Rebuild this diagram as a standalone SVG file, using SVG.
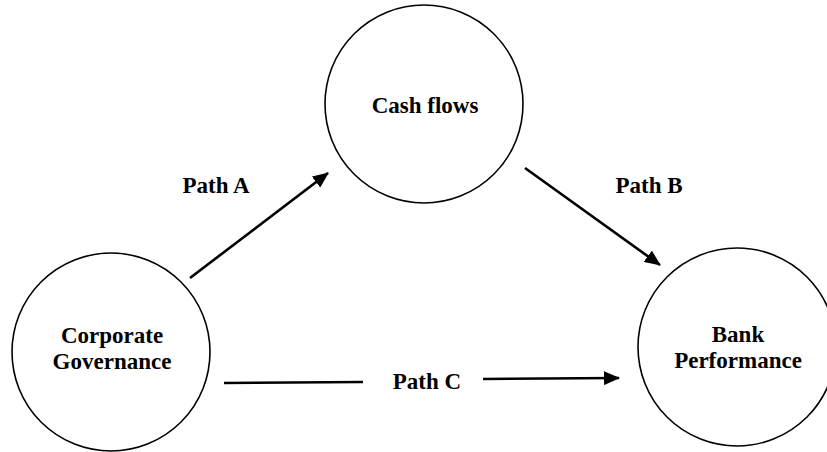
<svg xmlns="http://www.w3.org/2000/svg" width="827" height="452" viewBox="0 0 827 452">
<style>
.node{fill:#fff;stroke:#000;stroke-width:1.6}
.lbl{font-weight:bold;font-size:23px;fill:#000;text-anchor:middle}
.edge{stroke:#000;stroke-width:2.6;fill:none}
</style>
<defs>
<marker id="ah" markerUnits="userSpaceOnUse" markerWidth="16" markerHeight="14" refX="15" refY="7" orient="auto">
<path d="M0,0 L16,7 L0,14 Z" fill="#000"/>
</marker>
</defs>
<rect width="827" height="452" fill="#fff"/>
<g font-family="'Liberation Serif', 'Times New Roman', 'DejaVu Serif', serif">
<g id="cash-flows">
<circle class="node" cx="424" cy="104" r="99"/>
<text class="lbl" x="425" y="113">Cash flows</text>
</g>
<g id="corporate-governance">
<circle class="node" cx="111" cy="352" r="99"/>
<text class="lbl" x="112" y="343">Corporate</text>
<text class="lbl" x="112" y="369">Governance</text>
</g>
<g id="bank-performance">
<circle class="node" cx="737" cy="347" r="99"/>
<text class="lbl" x="738" y="342">Bank</text>
<text class="lbl" x="738" y="368">Performance</text>
</g>
<g id="connectors">
<line class="edge" x1="190" y1="278" x2="328" y2="173" marker-end="url(#ah)"/>
<line class="edge" x1="525" y1="168" x2="660" y2="265" marker-end="url(#ah)"/>
<line class="edge" x1="224" y1="383" x2="363" y2="382"/>
<line class="edge" x1="483" y1="379" x2="619" y2="378" marker-end="url(#ah)"/>
<text class="lbl" x="216" y="193">Path A</text>
<text class="lbl" x="649" y="193">Path B</text>
<text class="lbl" x="427" y="389">Path C</text>
</g>
</g>
</svg>
